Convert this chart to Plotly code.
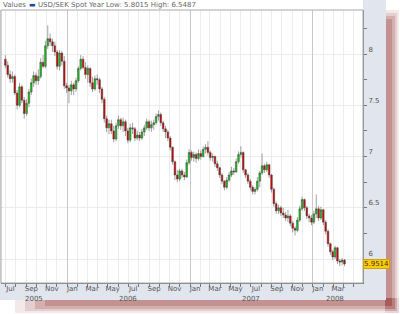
import pandas as pd
import plotly.graph_objects as go

# ---------------- data ----------------
week_start = "2005-07-01"
n_weeks = 145
dates = pd.date_range(week_start, periods=n_weeks, freq="7D")

opens = [7.95, 7.89, 7.80, 7.76, 7.78, 7.62, 7.50, 7.68, 7.55, 7.42,
         7.52, 7.63, 7.72, 7.79, 7.74, 7.78, 7.92, 7.88, 8.08, 8.15,
         8.12, 8.08, 8.02, 7.88, 8.01, 7.93, 7.69, 7.67, 7.64, 7.70,
         7.66, 7.74, 7.86, 7.95, 7.87, 7.80, 7.86, 7.72, 7.66, 7.76,
         7.75, 7.66, 7.56, 7.37, 7.28, 7.32, 7.25, 7.17, 7.30, 7.36,
         7.30, 7.34, 7.25, 7.16, 7.28, 7.27, 7.18, 7.21, 7.18, 7.24,
         7.28, 7.34, 7.28, 7.31, 7.33, 7.39, 7.41, 7.33, 7.27, 7.24,
         7.18, 7.09, 6.95, 6.82, 6.78, 6.86, 6.82, 6.80, 6.94, 7.04,
         6.99, 7.02, 6.98, 7.03, 7.00, 7.07, 7.09, 7.04, 6.99, 7.00,
         6.93, 6.89, 6.82, 6.76, 6.70, 6.77, 6.82, 6.86, 6.85, 6.95,
         7.02, 7.04, 6.87, 6.82, 6.76, 6.70, 6.66, 6.68, 6.76, 6.84,
         6.91, 6.87, 6.92, 6.82, 6.68, 6.54, 6.47, 6.50, 6.45, 6.43,
         6.40, 6.42, 6.35, 6.30, 6.28, 6.38, 6.49, 6.58, 6.50, 6.42,
         6.40, 6.36, 6.44, 6.49, 6.40, 6.48, 6.36, 6.27, 6.15, 6.07,
         6.02, 6.11, 5.98, 5.97, 5.99]

closes = [7.89, 7.80, 7.76, 7.78, 7.62, 7.50, 7.68, 7.55, 7.42, 7.52,
          7.63, 7.72, 7.79, 7.74, 7.78, 7.92, 7.88, 8.08, 8.15, 8.12,
          8.08, 8.02, 7.88, 8.01, 7.93, 7.69, 7.67, 7.64, 7.70, 7.66,
          7.74, 7.86, 7.95, 7.87, 7.80, 7.86, 7.72, 7.66, 7.76, 7.75,
          7.66, 7.56, 7.37, 7.28, 7.32, 7.25, 7.17, 7.30, 7.36, 7.30,
          7.34, 7.25, 7.16, 7.28, 7.27, 7.18, 7.21, 7.18, 7.24, 7.28,
          7.34, 7.28, 7.31, 7.33, 7.39, 7.41, 7.33, 7.27, 7.24, 7.18,
          7.09, 6.95, 6.82, 6.78, 6.86, 6.82, 6.80, 6.94, 7.04, 6.99,
          7.02, 6.98, 7.03, 7.00, 7.07, 7.09, 7.04, 6.99, 7.00, 6.93,
          6.89, 6.82, 6.76, 6.70, 6.77, 6.82, 6.86, 6.85, 6.95, 7.02,
          7.04, 6.87, 6.82, 6.76, 6.70, 6.66, 6.68, 6.76, 6.84, 6.91,
          6.87, 6.92, 6.82, 6.68, 6.54, 6.47, 6.50, 6.45, 6.43, 6.40,
          6.42, 6.35, 6.30, 6.28, 6.38, 6.49, 6.58, 6.50, 6.42, 6.40,
          6.36, 6.44, 6.49, 6.40, 6.48, 6.36, 6.27, 6.15, 6.07, 6.02,
          6.11, 5.98, 5.97, 5.99, 5.9514]

highs = [7.99, 7.93, 7.84, 7.83, 7.80, 7.65, 7.72, 7.70, 7.58, 7.56,
         7.66, 7.76, 7.83, 7.82, 7.85, 7.96, 7.99, 8.13, 8.28, 8.20,
         8.15, 8.12, 8.04, 8.04, 8.03, 7.98, 7.72, 7.70, 7.74, 7.72,
         7.77, 7.88, 7.99, 7.98, 7.92, 7.89, 7.87, 7.78, 7.79, 7.80,
         7.77, 7.68, 7.58, 7.40, 7.36, 7.36, 7.30, 7.33, 7.40, 7.38,
         7.38, 7.36, 7.28, 7.32, 7.33, 7.29, 7.25, 7.24, 7.27, 7.31,
         7.37, 7.36, 7.35, 7.36, 7.42, 7.45, 7.43, 7.35, 7.30, 7.26,
         7.20, 7.10, 6.96, 6.87, 6.88, 6.88, 6.85, 6.97, 7.07, 7.06,
         7.05, 7.04, 7.07, 7.06, 7.10, 7.12, 7.15, 7.06, 7.03, 7.01,
         6.96, 6.90, 6.84, 6.77, 6.80, 6.85, 6.90, 6.89, 6.98, 7.05,
         7.10, 7.05, 6.88, 6.84, 6.78, 6.72, 6.70, 6.80, 6.86, 7.03,
         6.93, 6.95, 6.93, 6.83, 6.70, 6.56, 6.53, 6.52, 6.50, 6.46,
         6.48, 6.44, 6.37, 6.32, 6.41, 6.52, 6.61, 6.59, 6.52, 6.44,
         6.43, 6.47, 6.63, 6.52, 6.51, 6.49, 6.38, 6.29, 6.16, 6.09,
         6.13, 6.12, 6.00, 6.01, 6.00]

lows = [7.86, 7.77, 7.72, 7.72, 7.60, 7.46, 7.48, 7.52, 7.37, 7.40,
        7.48, 7.60, 7.68, 7.70, 7.70, 7.76, 7.86, 7.86, 8.05, 8.08,
        8.02, 7.98, 7.85, 7.84, 7.89, 7.66, 7.62, 7.52, 7.60, 7.60,
        7.63, 7.72, 7.84, 7.85, 7.76, 7.72, 7.68, 7.63, 7.64, 7.70,
        7.62, 7.52, 7.33, 7.24, 7.22, 7.22, 7.14, 7.15, 7.27, 7.26,
        7.24, 7.20, 7.13, 7.14, 7.22, 7.15, 7.16, 7.15, 7.16, 7.20,
        7.26, 7.25, 7.24, 7.26, 7.31, 7.35, 7.30, 7.24, 7.18, 7.15,
        7.06, 6.92, 6.77, 6.75, 6.76, 6.79, 6.77, 6.79, 6.92, 6.96,
        6.95, 6.94, 6.96, 6.97, 6.99, 7.03, 7.01, 6.96, 6.95, 6.90,
        6.86, 6.79, 6.73, 6.67, 6.68, 6.75, 6.80, 6.82, 6.84, 6.93,
        6.99, 6.84, 6.79, 6.73, 6.67, 6.63, 6.63, 6.66, 6.70, 6.82,
        6.84, 6.85, 6.79, 6.65, 6.51, 6.44, 6.44, 6.42, 6.40, 6.37,
        6.36, 6.32, 6.26, 6.23, 6.26, 6.36, 6.47, 6.47, 6.39, 6.36,
        6.33, 6.34, 6.40, 6.37, 6.38, 6.33, 6.24, 6.12, 6.04, 5.99,
        6.00, 5.95, 5.93, 5.94, 5.93]

month_tick_dates = ["2005-07-16", "2005-09-16", "2005-11-16", "2006-01-16",
                    "2006-03-16", "2006-05-16", "2006-07-16", "2006-09-16",
                    "2006-11-16", "2007-01-16", "2007-03-16", "2007-05-16",
                    "2007-07-16", "2007-09-16", "2007-11-16", "2008-01-16",
                    "2008-03-16"]
month_tick_text = ["Jul", "Sep", "Nov", "Jan", "Mar", "May", "Jul", "Sep",
                   "Nov", "Jan", "Mar", "May", "Jul", "Sep", "Nov", "Jan", "Mar"]
year_label_dates = ["2005-09-24", "2006-07-01", "2007-07-01", "2008-03-06"]
year_labels = ["2005", "2006", "2007", "2008"]
y_tick_vals = [6, 6.5, 7, 7.5, 8]
y_tick_text = ["6", "6.5", "7", "7.5", "8"]

series_name = "USD/SEK Spot"
year_low, year_high = 5.8015, 6.5487

# ---------------- figure ----------------
W, H = 400, 314
L, R, T, B = 1, 37, 10, 31          # plot area: x 1..363, y 10..283
pw, ph = W - L - R, H - T - B

def px(x):  # pixel -> paper x
    return (x - L) / pw

def py(y):  # pixel -> paper y
    return (H - B - y) / ph

FONT = "DejaVu Sans, Verdana, sans-serif"
x_range = ["2005-06-18", "2008-05-29"]

fig = go.Figure()
fig.add_trace(go.Scatter(x=[], y=[], xaxis="x", yaxis="y", showlegend=False))
fig.add_trace(go.Scatter(x=[], y=[], xaxis="x2", yaxis="y", showlegend=False))
fig.add_trace(go.Candlestick(
    x=dates, open=opens, high=highs, low=lows, close=closes,
    xaxis="x3", yaxis="y", name=series_name, showlegend=False,
    increasing=dict(fillcolor="#0fc80f", line=dict(color="#444444", width=0.5)),
    decreasing=dict(fillcolor="#d40000", line=dict(color="#444444", width=0.5)),
    whiskerwidth=0, hoverinfo="skip",
))

shapes = []
# soft shadow (right + bottom)
for (x0, y0, x1, y1, a) in [
        (385, 10, 399, 313, 0.10), (385, 13, 397, 311, 0.14),
        (385, 16, 395, 309, 0.18), (385, 19, 392, 306, 0.22),
        (15, 298, 399, 313, 0.10), (25, 298, 397, 311, 0.14),
        (35, 298, 395, 309, 0.18), (45, 298, 392, 306, 0.22)]:
    shapes.append(dict(type="rect", xref="paper", yref="paper", layer="below",
                       x0=px(x0), x1=px(x1), y0=py(y1), y1=py(y0),
                       fillcolor=f"rgba(140,40,40,{a})", line=dict(width=0)))
# frame
shapes.append(dict(type="rect", xref="paper", yref="paper", layer="below",
                   x0=px(0), x1=px(386), y0=py(300), y1=py(0),
                   fillcolor="#e1e6ee", line=dict(width=0)))
# white legend strip
shapes.append(dict(type="rect", xref="paper", yref="paper", layer="below",
                   x0=px(0), x1=px(363), y0=py(T), y1=py(0),
                   fillcolor="#ffffff", line=dict(width=0)))
# white plot background
shapes.append(dict(type="rect", xref="paper", yref="paper", layer="below",
                   x0=0, x1=1, y0=0, y1=1,
                   fillcolor="#ffffff", line=dict(width=0)))
# plot border
shapes.append(dict(type="rect", xref="paper", yref="paper", layer="above",
                   x0=0, x1=1, y0=0, y1=1,
                   fillcolor="rgba(0,0,0,0)", line=dict(color="#a8a8a8", width=1)))

annotations = []
legend_font = dict(family=FONT, size=7, color="#666666")
annotations.append(dict(xref="paper", yref="paper", x=px(1), y=py(5),
                        xanchor="left", yanchor="middle", showarrow=False,
                        text="Values", font=legend_font))
annotations.append(dict(xref="paper", yref="paper", x=px(27), y=py(5),
                        xanchor="left", yanchor="middle", showarrow=False,
                        text="▬", font=dict(family=FONT, size=7, color="#1a4a9a")))
annotations.append(dict(xref="paper", yref="paper", x=px(36), y=py(5),
                        xanchor="left", yanchor="middle", showarrow=False,
                        text=series_name, font=legend_font))
annotations.append(dict(xref="paper", yref="paper", x=px(86), y=py(5),
                        xanchor="left", yanchor="middle", showarrow=False,
                        text=f"Year Low: {year_low:.4f} High: {year_high:.4f}",
                        font=legend_font))
for d, t in zip(year_label_dates, year_labels):
    annotations.append(dict(xref="x3", yref="paper", x=d, y=0, yanchor="middle",
                            yshift=-16, showarrow=False, text=t,
                            font=dict(family=FONT, size=7, color="#555555")))
annotations.append(dict(xref="paper", yref="y", x=1, y=closes[-1],
                        xanchor="left", yanchor="middle", showarrow=False,
                        text=f"{closes[-1]:.4f}", bgcolor="#ffcc00",
                        bordercolor="#d4a000", borderwidth=1, borderpad=0,
                        font=dict(family=FONT, size=7, color="#333333")))

fig.update_layout(
    width=W, height=H, margin=dict(l=L, r=R, t=T, b=B),
    paper_bgcolor="#ffffff", plot_bgcolor="rgba(0,0,0,0)",
    showlegend=False, shapes=shapes, annotations=annotations,
    boxgap=0.0,
    font=dict(family=FONT, size=7, color="#555555"),
    xaxis=dict(type="date", range=x_range, tickmode="linear",
               tick0="2005-01-01", dtick="M1", showgrid=True,
               gridcolor="#ececec", gridwidth=1, showticklabels=False,
               ticks="outside", ticklen=3, tickcolor="#777777",
               showline=True, linecolor="#777777", zeroline=False,
               fixedrange=True),
    xaxis2=dict(type="date", overlaying="x", matches="x", anchor="y",
                tickmode="linear", tick0="2006-01-01", dtick="M12",
                showgrid=True, gridcolor="#c8c8c8", gridwidth=1,
                showticklabels=False, ticks="", showline=False,
                zeroline=False),
    xaxis3=dict(type="date", overlaying="x", matches="x", anchor="y",
                tickmode="array", tickvals=month_tick_dates,
                ticktext=month_tick_text, showgrid=False, ticks="",
                showline=False, zeroline=False,
                tickfont=dict(family=FONT, size=7, color="#555555"),
                rangeslider=dict(visible=False)),
    yaxis=dict(side="right", range=[5.766, 8.43], tickmode="array",
               tickvals=y_tick_vals, ticktext=y_tick_text,
               showgrid=True, gridcolor="#ececec", gridwidth=1,
               ticks="outside", ticklen=3, tickcolor="#777777",
               minor=dict(dtick=0.25, tick0=0, ticks="outside", ticklen=3,
                          tickcolor="#777777", showgrid=False),
               showline=True, linecolor="#888888", zeroline=False,
               tickfont=dict(family=FONT, size=7, color="#555555"),
               ticklabelstandoff=0, ticklabelshift=-5),
)

fig.write_html("out.html")
